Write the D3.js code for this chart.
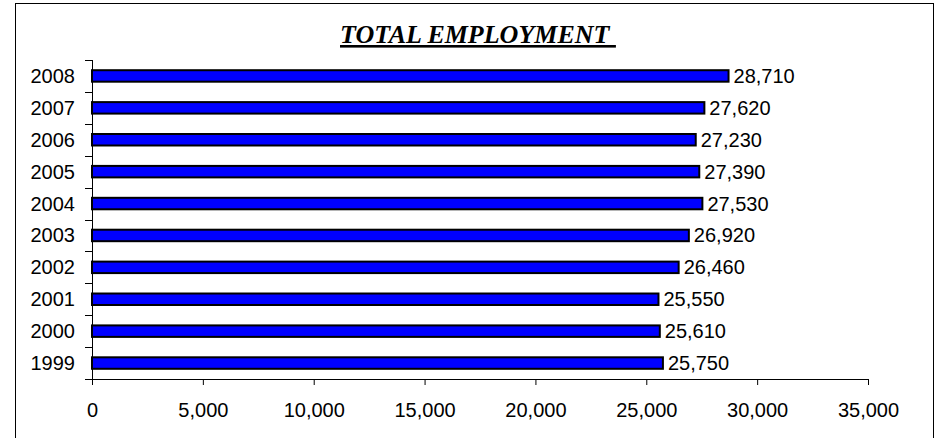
<!DOCTYPE html>
<html>
<head>
<meta charset="utf-8">
<script src="https://cdn.jsdelivr.net/npm/d3@7"></script>
<style>
  html, body { margin: 0; padding: 0; background: #fff; }
  svg { display: block; }
</style>
</head>
<body>
<svg id="chart" width="943" height="438"></svg>
<script>
// Total employment by year
const years = ["1999", "2000", "2001", "2002", "2003", "2004", "2005", "2006", "2007", "2008"];
const employment = [25750, 25610, 25550, 26460, 26920, 27530, 27390, 27230, 27620, 28710];
const xTicks = [0, 5000, 10000, 15000, 20000, 25000, 30000, 35000];
const chartTitle = "TOTAL EMPLOYMENT ";

const data = years.map((y, i) => ({ year: y, value: employment[i] }));

const svg = d3.select("#chart");
const plotLeft = 92, plotRight = 868, plotTop = 60, plotBottom = 379;
const labelFont = "Liberation Sans, Arial, sans-serif";
const labelSize = 20;

// outer frame
svg.append("rect")
  .attr("x", 15.5).attr("y", 3.5)
  .attr("width", 918).attr("height", 460)
  .attr("fill", "#fff").attr("stroke", "#000").attr("stroke-width", 1);

const x = d3.scaleLinear().domain([0, 35000]).range([plotLeft, plotRight]);
const order = years.slice().reverse();
const y = d3.scaleBand().domain(order).range([plotTop, plotBottom]).paddingInner(0.64).paddingOuter(0.32);
const yBand = d3.scaleBand().domain(order).range([plotTop, plotBottom]);

// bars
svg.append("g").selectAll("rect").data(data).join("rect")
  .attr("x", x(0))
  .attr("y", d => y(d.year))
  .attr("width", d => x(d.value) - x(0))
  .attr("height", y.bandwidth())
  .attr("fill", "#0000FF")
  .attr("stroke", "#000")
  .attr("stroke-width", 2);

// value labels
svg.append("g").selectAll("text").data(data).join("text")
  .attr("x", d => x(d.value) + 5)
  .attr("y", d => y(d.year) + y.bandwidth() / 2)
  .attr("dy", "0.35em")
  .attr("font-family", labelFont)
  .attr("font-size", labelSize)
  .attr("fill", "#000")
  .text(d => d3.format(",")(d.value));

// x axis
const xAxis = d3.axisBottom(x).tickValues(xTicks).tickFormat(d3.format(",")).tickSize(6).tickSizeOuter(0);
const gx = svg.append("g").attr("transform", `translate(0,${plotBottom})`).call(xAxis);
gx.select(".domain").attr("d", `M${plotLeft - 7},0.5H${plotRight}`).attr("stroke", "#000");
gx.selectAll(".tick line").attr("stroke", "#000");
gx.selectAll(".tick text")
  .attr("y", 24)
  .attr("dy", "0.71em")
  .attr("font-family", labelFont)
  .attr("font-size", labelSize)
  .attr("fill", "#000");

// y axis: ticks between categories, labels at band centres
const gy = svg.append("g");
const boundaries = order.map(d => yBand(d)).concat([plotBottom]);
gy.append("line")
  .attr("x1", plotLeft + 0.5).attr("x2", plotLeft + 0.5)
  .attr("y1", plotTop).attr("y2", plotBottom)
  .attr("stroke", "#000");
gy.selectAll("line.tk").data(boundaries).join("line")
  .attr("class", "tk")
  .attr("x1", plotLeft - 7).attr("x2", plotLeft)
  .attr("y1", d => Math.round(d) + 0.5).attr("y2", d => Math.round(d) + 0.5)
  .attr("stroke", "#000");
gy.selectAll("text").data(years).join("text")
  .attr("x", 75)
  .attr("y", d => yBand(d) + yBand.bandwidth() / 2)
  .attr("dy", "0.35em")
  .attr("text-anchor", "end")
  .attr("font-family", labelFont)
  .attr("font-size", labelSize)
  .attr("fill", "#000")
  .text(d => d);

// title
svg.append("text")
  .attr("x", 340)
  .attr("y", 43)
  .attr("font-family", "Liberation Serif, Times New Roman, serif")
  .attr("font-weight", "bold")
  .attr("font-style", "italic")
  .attr("font-size", 26)
  .attr("text-decoration", "underline")
  .style("white-space", "pre")
  .attr("fill", "#000")
  .text(chartTitle);
</script>
</body>
</html>
